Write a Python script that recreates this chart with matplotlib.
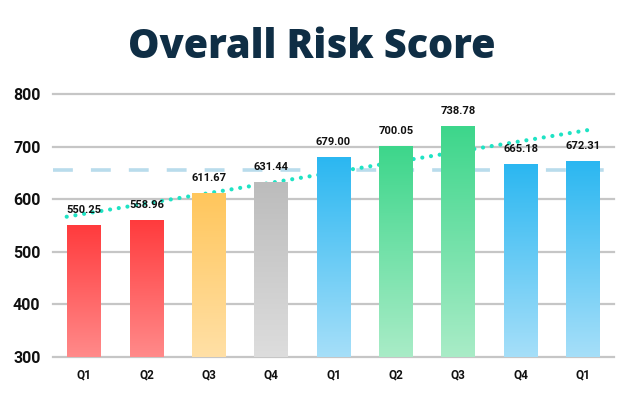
import matplotlib
matplotlib.use("Agg")
import matplotlib.pyplot as plt
import numpy as np
from matplotlib.colors import LinearSegmentedColormap

# ---- data ----
categories = ["Q1", "Q2", "Q3", "Q4", "Q1", "Q2", "Q3", "Q4", "Q1"]
values = [550.25, 558.96, 611.67, 631.44, 679.00, 700.05, 738.78, 665.18, 672.31]
value_labels = ["550.25", "558.96", "611.67", "631.44", "679.00", "700.05", "738.78", "665.18", "672.31"]
y_ticks = [300, 400, 500, 600, 700, 800]
average_line = 655
trend_x = [-0.28, 8.09]
trend_y = [566.7, 731.6]
title = "Overall Risk Score"

# ---- styles ----
top_colors = ["#ff3b3d", "#ff3b3d", "#ffc65c", "#bcbcbc", "#2bb7f1",
              "#3dd68b", "#3dd68b", "#2bb7f1", "#2bb7f1"]
bottom_colors = ["#ff8a8a", "#ff8a8a", "#ffe0a6", "#dddddd", "#a6dff9",
                 "#a9ecc7", "#a9ecc7", "#a6dff9", "#a6dff9"]

W, H = 624, 403
fig = plt.figure(figsize=(W / 100, H / 100), dpi=100)
ax = fig.add_axes([53 / W, 1 - 357 / H, (614 - 53) / W, (357 - 94) / H])

ymin, ymax = 300, 800
ax.set_xlim(-0.5, 8.5)
ax.set_ylim(ymin, ymax)

for t in y_ticks:
    ax.axhline(t, color="#c6c6c6", lw=1.6, zorder=1, clip_on=False)

ax.axhline(average_line, color="#b9dcec", lw=2.6, ls=(0, (5.5, 5)), zorder=2)

ax.plot(trend_x, trend_y, color="#1fe3c4", lw=3.0, ls=(0, (0.01, 2.1)),
        dash_capstyle="round", zorder=3)

bw = 0.54
x = np.arange(len(values))
grad = np.linspace(1, 0, 256).reshape(-1, 1)
for i, v in enumerate(values):
    cmap = LinearSegmentedColormap.from_list("g", [bottom_colors[i], top_colors[i]])
    ax.imshow(grad, extent=[x[i] - bw / 2, x[i] + bw / 2, ymin, v], aspect="auto",
              cmap=cmap, vmin=0, vmax=1, zorder=4, interpolation="bilinear")
    ax.annotate(value_labels[i], (x[i], v), xytext=(0, 7.5), textcoords="offset points",
                ha="center", va="bottom", fontsize=8, fontweight="bold",
                family="Roboto", color="#111111", zorder=6)

ax.set_xlim(-0.5, 8.5)
ax.set_ylim(ymin, ymax)

ax.set_xticks(x)
ax.set_xticklabels(categories, fontsize=8.5, fontweight="bold", family="Roboto", color="#111111")
ax.set_yticks(y_ticks)
ax.set_yticklabels([str(t) for t in y_ticks], fontsize=11.5, fontweight="bold",
                   family="Roboto", color="#111111")
ax.tick_params(axis="x", length=0, pad=8)
ax.tick_params(axis="y", length=0, pad=9)
for s in ax.spines.values():
    s.set_visible(False)

fig.text(0.5, 1 - 48 / H, title, ha="center", va="center", fontsize=28.5,
         fontweight="heavy", family="Open Sans", color="#0f2e45")

fig.savefig("out.png", dpi=100)
